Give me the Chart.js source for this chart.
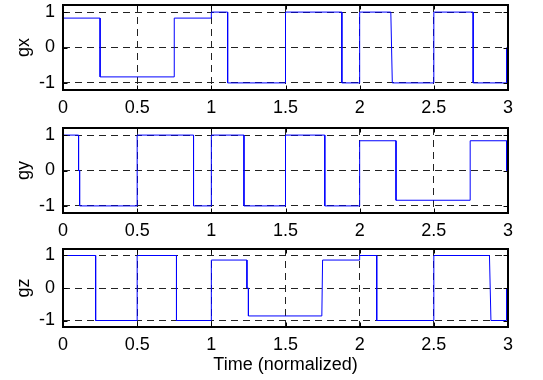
<!DOCTYPE html>
<html>
<head>
<meta charset="utf-8">
<script src="https://cdn.jsdelivr.net/npm/chart.js@4"></script>
<style>
  body { margin: 0; background: #fff; }
  #wrap { position: relative; width: 543px; height: 380px; }
  canvas { position: absolute; left: 0; }
</style>
</head>
<body>
<div id="wrap">
  <canvas id="gxChart" width="543" height="118" style="top:0px"></canvas>
  <canvas id="gyChart" width="543" height="123" style="top:118px"></canvas>
  <canvas id="gzChart" width="543" height="139" style="top:241px"></canvas>
</div>
<script>
// ticks shared by all three panels
const xTicks = [0, 0.5, 1, 1.5, 2, 2.5, 3];
const yTicks = [-1, 0, 1];

// gx: transition points (time, value)
const gxTime  = [0, 0, 0.25, 0.25, 0.75, 0.75, 1.0, 1.0, 1.11, 1.11, 1.5, 1.5, 1.88, 1.88, 2.0, 2.0, 2.21, 2.22, 2.495, 2.5, 2.765, 2.765, 2.99, 2.99];
const gxValue = [0, 0.83, 0.83, -0.83, -0.83, 0.83, 0.83, 1, 1, -1, -1, 1, 1, -1, -1, 1, 1, -1, -1, 1, 1, -1, -1, 0];

// gy
const gyTime  = [0, 0, 0.105, 0.105, 0.112, 0.112, 0.5, 0.5, 0.88, 0.88, 1.0, 1.0, 1.22, 1.22, 1.5, 1.5, 1.765, 1.765, 2.0, 2.0, 2.245, 2.245, 2.745, 2.745, 2.99, 2.99];
const gyValue = [0, 1, 1, 0, 0, -1, -1, 1, 1, -1, -1, 1, 1, -1, -1, 1, 1, -1, -1, 0.84, 0.84, -0.84, -0.84, 0.84, 0.84, 0];

// gz
const gzTime  = [0, 0, 0.22, 0.22, 0.5, 0.5, 0.765, 0.765, 1.0, 1.0, 1.24, 1.24, 1.25, 1.25, 1.745, 1.75, 2.0, 2.0, 2.115, 2.115, 2.495, 2.5, 2.875, 2.885, 2.99, 2.99];
const gzValue = [0, 1, 1, -1, -1, 1, 1, -1, -1, 0.86, 0.86, 0, 0, -0.86, -0.86, 0.86, 0.86, 1, 1, -1, -1, 1, 1, -1, -1, 0];

const FONT = { family: "'Liberation Sans', Arial, sans-serif", size: 18 };

// box around the plot area + small inward tick marks (matlab style)
const boxPlugin = {
  id: 'box',
  afterDraw(chart) {
    const { ctx, chartArea: a, scales } = chart;
    const l = Math.round(a.left) + 0.5, r = Math.round(a.right) - 0.5;
    const t = Math.round(a.top) + 0.5, b = Math.round(a.bottom) - 0.5;
    ctx.save();
    ctx.strokeStyle = '#000';
    ctx.lineWidth = 1;
    ctx.beginPath();
    xTicks.forEach(v => {
      const x = Math.round(scales.x.getPixelForValue(v)) + 0.5;
      ctx.moveTo(x, b); ctx.lineTo(x, b - 4);
      ctx.moveTo(x, t); ctx.lineTo(x, t + 4);
    });
    yTicks.forEach(v => {
      const y = Math.round(scales.y.getPixelForValue(v)) + 0.5;
      ctx.moveTo(l, y); ctx.lineTo(l + 4, y);
      ctx.moveTo(r, y); ctx.lineTo(r - 4, y);
    });
    ctx.stroke();
    ctx.lineWidth = 2;
    ctx.strokeRect(Math.round(a.left), Math.round(a.top), Math.round(a.right) - Math.round(a.left), Math.round(a.bottom) - Math.round(a.top));
    ctx.restore();
  }
};

function makePanel(id, label, times, values, padTop, xHeight, xTitle) {
  const pts = times.map((t, i) => ({ x: t, y: values[i] }));
  return new Chart(document.getElementById(id), {
    type: 'line',
    data: {
      datasets: [{
        label: label,
        data: pts,
        borderColor: '#0000ff',
        borderWidth: 1,
        pointRadius: 0,
        tension: 0,
        fill: false
      }]
    },
    options: {
      responsive: false,
      animation: false,
      layout: { padding: { top: padTop, right: 35, left: 0, bottom: 0 } },
      plugins: { legend: { display: false }, tooltip: { enabled: false } },
      scales: {
        x: {
          type: 'linear',
          min: 0, max: 3,
          afterBuildTicks: s => { s.ticks = xTicks.map(v => ({ value: v })); },
          afterFit: s => { s.height = xHeight; s.paddingLeft = 0; s.paddingRight = 0; },
          ticks: { color: '#000', font: FONT, padding: 7, maxRotation: 0, autoSkip: false,
                   callback: v => String(v) },
          grid: { color: '#222', lineWidth: 1, drawTicks: false },
          border: { display: false, dash: [7, 5] },
          title: { display: !!xTitle, text: xTitle || '', color: '#000', font: FONT, padding: { top: 1 } }
        },
        y: {
          min: -1.2, max: 1.2,
          afterBuildTicks: s => { s.ticks = yTicks.map(v => ({ value: v })); },
          afterFit: s => { s.width = 63; s.paddingTop = 0; s.paddingBottom = 0; },
          ticks: { color: '#000', font: FONT, padding: 8, callback: v => String(v) },
          grid: { color: '#222', lineWidth: 1, drawTicks: false },
          border: { display: false, dash: [7, 5] },
          title: { display: true, text: label, color: '#000', font: FONT, padding: { top: 13 } }
        }
      }
    },
    plugins: [boxPlugin]
  });
}

makePanel('gxChart', 'gx', gxTime, gxValue, 5, 28);
makePanel('gyChart', 'gy', gyTime, gyValue, 10, 28);
makePanel('gzChart', 'gz', gzTime, gzValue, 8, 53, 'Time (normalized)');
</script>
</body>
</html>
